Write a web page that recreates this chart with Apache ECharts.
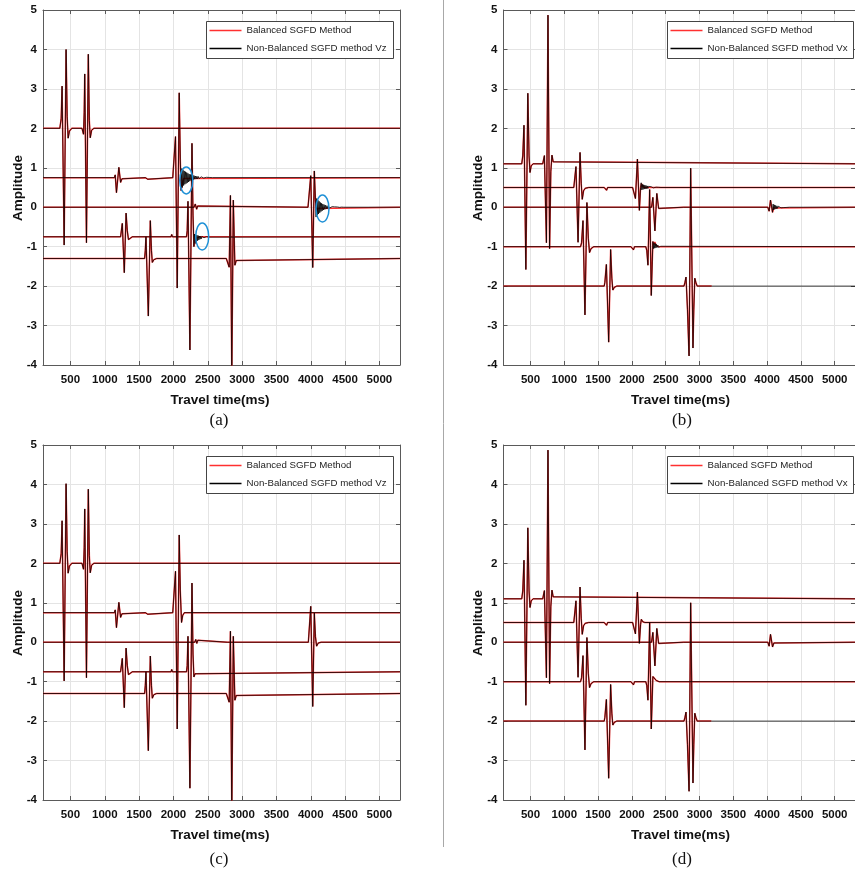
<!DOCTYPE html>
<html>
<head>
<meta charset="utf-8">
<script src="https://cdn.jsdelivr.net/npm/echarts@6/dist/echarts.min.js"></script>
<style>
  html, body { margin: 0; padding: 0; background: #fff; }
  #chart { width: 855px; height: 871px; }
</style>
</head>
<body>
<div id="chart"></div>
<script>
// ---- axis values ----
const timeTicks = [500, 1000, 1500, 2000, 2500, 3000, 3500, 4000, 4500, 5000];
const timeRange = [100, 5300];
const ampRange = [-4, 5];

const nameBalanced = 'Balanced SGFD Method';
const nameVz = 'Non-Balanced SGFD method Vz';
const nameVx = 'Non-Balanced SGFD method Vx';

// ---- panel (a): Vz traces, [time ms, amplitude] ----
const aTr1 = [[100,2],[345,2],[365,2.25],[378,3.07],[408,-0.96],[436,4.0],[452,2.3],[466,1.75],[485,1.93],[520,2],[668,2],[690,1.85],[700,2.4],[708,3.38],[733,-0.9],[760,3.88],[775,2.2],[788,1.76],[808,1.95],[840,2],[5300,2]];
const aTr2 = [[100,0.75],[1140,0.75],[1152,0.82],[1170,0.37],[1205,1.01],[1230,0.63],[1250,0.72],[1275,0.75],[1590,0.75],[1602,0.8],[1614,0.75],[1624,0.71],[1635,0.75],[1990,0.75],[2005,0.7],[2030,1.79],[2055,-2.05],[2084,2.9],[2100,1.2],[2112,0.42],[2130,0.62],[2150,0.73],[2175,0.75],[5300,0.75]];
const aTr3 = [[100,0],[2300,0],[2318,0.08],[2338,-0.05],[2352,0.03],[2365,0],[3960,0],[3978,-0.05],[4000,0.8],[4029,-1.53],[4052,0.92],[4068,0.2],[4085,-0.1],[4105,-0.03],[4130,0],[5300,0]];
const aTr4 = [[100,-0.75],[1230,-0.75],[1238,-0.7],[1255,-0.41],[1284,-1.66],[1310,-0.15],[1328,-0.6],[1345,-0.82],[1365,-0.77],[1400,-0.75],[1965,-0.75],[1975,-0.69],[1985,-0.75],[1995,-0.8],[2008,-0.75],[2190,-0.75],[2200,-0.6],[2212,0.15],[2240,-3.62],[2270,1.62],[2285,-0.2],[2298,-1.0],[2318,-0.85],[2345,-0.77],[2380,-0.75],[5300,-0.75]];
const aTr5 = [[100,-1.3],[1580,-1.3],[1590,-1.1],[1600,-0.75],[1634,-2.76],[1663,-0.34],[1680,-1.1],[1692,-1.4],[1715,-1.33],[1755,-1.3],[2770,-1.3],[2795,-1.35],[2812,-1.52],[2830,0.3],[2850,-4.3],[2872,0.18],[2895,-1.47],[2915,-1.35],[2940,-1.3],[5300,-1.3]];
// dispersion ringing of the non-balanced scheme
const aRing2 = [[2112,0.42],[2121,0.98],[2130,0.5],[2139,0.95],[2148,0.55],[2157,0.92],[2166,0.58],[2175,0.9],[2184,0.6],[2193,0.88],[2202,0.62],[2211,0.86],[2220,0.64],[2229,0.84],[2238,0.66],[2247,0.83],[2256,0.68],[2265,0.82],[2274,0.69],[2283,0.81],[2292,0.7],[2301,0.8],[2311,0.71],[2321,0.79],[2331,0.715],[2341,0.785],[2351,0.72],[2361,0.78],[2372,0.725],[2383,0.775],[2394,0.73],[2405,0.77],[2416,0.735],[2428,0.765],[2440,0.74],[2452,0.76],[2465,0.742],[2480,0.758],[2500,0.745],[2520,0.755],[2545,0.748],[2570,0.75]];
const aRing3 = [[4068,0.2],[4077,-0.25],[4086,0.22],[4095,-0.2],[4104,0.18],[4113,-0.17],[4122,0.15],[4131,-0.14],[4140,0.12],[4149,-0.11],[4158,0.1],[4167,-0.09],[4176,0.08],[4185,-0.07],[4195,0.065],[4205,-0.055],[4215,0.05],[4225,-0.045],[4236,0.04],[4247,-0.035],[4258,0.03],[4270,-0.025],[4283,0.02],[4297,-0.018],[4312,0.015],[4328,-0.012],[4345,0.01],[4365,-0.008],[4390,0.006],[4420,-0.004],[4450,0.003],[4480,0]];
const aRing4 = [[2298,-1.0],[2307,-0.68],[2316,-0.92],[2325,-0.7],[2334,-0.88],[2343,-0.71],[2352,-0.85],[2361,-0.72],[2370,-0.83],[2379,-0.73],[2388,-0.81],[2397,-0.735],[2406,-0.8],[2415,-0.74],[2425,-0.78],[2435,-0.742],[2445,-0.775],[2456,-0.745],[2467,-0.77],[2479,-0.746],[2492,-0.765],[2506,-0.748],[2524,-0.758],[2545,-0.75]];
// centres [time, amplitude] of the circled ringing zones
const aRingMarks = [[2187, 0.68], [2419, -0.74], [4171, -0.03]];

// ---- panel (b): Vx traces ----
const bTr1 = [[100,1.1],[370,1.1],[385,1.3],[403,2.08],[431,-1.58],[460,2.89],[478,1.3],[492,0.88],[510,1.05],[540,1.1],[680,1.1],[690,1.15],[705,1.31],[735,-0.9],[758,4.87],[782,-1.05],[800,0.9],[817,1.32],[835,1.15],[855,1.1],[5300,1.1]];
const bTr2 = [[100,0.5],[1140,0.5],[1150,0.55],[1172,1.03],[1203,-0.89],[1232,1.39],[1250,0.6],[1265,0.2],[1285,0.42],[1310,0.48],[1360,0.5],[1590,0.5],[1600,0.55],[1612,0.5],[1625,0.43],[1640,0.5],[2010,0.5],[2025,0.45],[2052,0.22],[2081,1.22],[2110,-0.08],[2128,0.5],[2140,0.6],[2160,0.52],[2190,0.5],[5300,0.5]];
const bTr3 = [[100,0],[2290,0],[2310,0.25],[2340,-0.6],[2368,0.35],[2395,-0.03],[2420,0],[2765,0],[2778,-0.03],[2790,0],[4010,0],[4030,-0.1],[4050,0.18],[4080,-0.13],[4100,-0.02],[4120,0],[5300,0]];
const bTr4 = [[100,-1],[1240,-1],[1255,-0.9],[1276,-0.34],[1305,-2.73],[1334,0.12],[1355,-0.8],[1373,-1.15],[1395,-1.05],[1436,-1],[1985,-1],[1995,-0.95],[2008,-1],[2023,-1.08],[2038,-1],[2205,-1],[2220,-1.1],[2237,-1.47],[2262,0.45],[2286,-2.24],[2310,-0.87],[2325,-0.95],[2340,-0.88],[2360,-0.98],[2400,-1],[5300,-1]];
const bTr5 = [[100,-2],[1590,-2],[1600,-1.9],[1622,-1.45],[1656,-3.42],[1685,-1.07],[1703,-1.8],[1717,-2.1],[1740,-2.03],[1775,-2],[2770,-2],[2785,-1.9],[2800,-1.77],[2822,-2.6],[2845,-3.77],[2869,0.99],[2903,-3.57],[2915,-2.6],[2930,-1.8],[2945,-1.9],[2965,-2],[3180,-2]];
const bRing2 = [[2128,0.5],[2137,0.62],[2146,0.44],[2155,0.58],[2164,0.45],[2173,0.57],[2182,0.46],[2191,0.56],[2200,0.47],[2209,0.55],[2218,0.47],[2227,0.54],[2236,0.475],[2245,0.53],[2254,0.48],[2264,0.525],[2274,0.483],[2284,0.52],[2295,0.486],[2306,0.515],[2317,0.49],[2330,0.51],[2343,0.492],[2357,0.508],[2372,0.494],[2388,0.505],[2406,0.497],[2430,0.5]];
const bRing3 = [[4080,-0.13],[4089,0.08],[4098,-0.07],[4107,0.06],[4116,-0.05],[4125,0.045],[4135,-0.04],[4145,0.035],[4155,-0.03],[4166,0.025],[4178,-0.02],[4191,0.018],[4205,-0.015],[4220,0.012],[4237,-0.01],[4256,0.008],[4280,-0.006],[4305,0.004],[4330,0]];
const bRing4 = [[2310,-0.87],[2319,-1.05],[2328,-0.9],[2337,-1.04],[2346,-0.92],[2355,-1.03],[2364,-0.94],[2373,-1.02],[2383,-0.96],[2393,-1.015],[2404,-0.975],[2415,-1.01],[2427,-0.99],[2440,-1]];
const bTail5 = [[3180,-2],[5300,-2]];

// ---- panel (c): Vz traces ----
const cTr1 = [[100,2],[345,2],[365,2.25],[378,3.08],[408,-0.98],[436,4.02],[452,2.3],[466,1.75],[485,1.93],[520,2],[668,2],[690,1.85],[700,2.4],[708,3.38],[733,-0.9],[760,3.88],[775,2.2],[788,1.76],[808,1.95],[840,2],[5300,2]];
const cTr2 = [[100,0.75],[1140,0.75],[1152,0.82],[1170,0.37],[1205,1.01],[1230,0.63],[1250,0.72],[1275,0.75],[1590,0.75],[1602,0.8],[1614,0.75],[1624,0.71],[1635,0.75],[1990,0.75],[2005,0.7],[2030,1.8],[2055,-2.2],[2084,2.72],[2100,1.3],[2118,0.5],[2135,0.68],[2160,0.75],[5300,0.75]];
const cTr3 = [[100,0],[2310,0],[2325,0.07],[2340,-0.03],[2355,0.05],[2370,0],[2785,0],[2795,0.02],[2805,0],[3965,0],[3980,-0.04],[4000,0.91],[4029,-1.63],[4052,0.74],[4068,0.15],[4085,-0.1],[4110,-0.02],[4150,0],[5300,0]];
const cTr4 = [[100,-0.75],[1230,-0.75],[1238,-0.7],[1255,-0.41],[1284,-1.66],[1310,-0.15],[1328,-0.6],[1345,-0.82],[1365,-0.77],[1400,-0.75],[1965,-0.75],[1975,-0.69],[1985,-0.75],[1995,-0.8],[2008,-0.75],[2190,-0.75],[2200,-0.6],[2212,0.15],[2240,-3.7],[2270,1.5],[2285,-0.3],[2298,-0.88],[2315,-0.8],[2340,-0.75],[5300,-0.75]];
const cTr5 = [[100,-1.3],[1580,-1.3],[1590,-1.1],[1600,-0.75],[1634,-2.75],[1663,-0.35],[1680,-1.1],[1692,-1.42],[1715,-1.33],[1755,-1.3],[2770,-1.3],[2795,-1.35],[2812,-1.52],[2830,0.28],[2850,-4.3],[2872,0.15],[2895,-1.47],[2915,-1.35],[2940,-1.3],[5300,-1.3]];

// ---- panel (d): Vx traces ----
const dTr1 = [[100,1.1],[370,1.1],[385,1.3],[403,2.08],[431,-1.6],[460,2.9],[478,1.3],[492,0.88],[510,1.05],[540,1.1],[680,1.1],[690,1.15],[705,1.31],[735,-0.9],[758,4.87],[782,-1.05],[800,0.9],[817,1.32],[835,1.15],[855,1.1],[5300,1.1]];
const dTr2 = [[100,0.5],[1140,0.5],[1150,0.55],[1172,1.05],[1203,-0.89],[1232,1.4],[1250,0.6],[1265,0.2],[1285,0.42],[1310,0.48],[1360,0.5],[1590,0.5],[1600,0.55],[1612,0.5],[1625,0.43],[1640,0.5],[2010,0.5],[2025,0.45],[2052,0.21],[2081,1.27],[2110,-0.03],[2128,0.45],[2139,0.58],[2160,0.52],[2190,0.5],[5300,0.5]];
const dTr3 = [[100,0],[2290,0],[2310,0.25],[2340,-0.6],[2368,0.35],[2395,-0.03],[2420,0],[2765,0],[2778,-0.03],[2790,0],[4010,0],[4030,-0.1],[4050,0.2],[4080,-0.12],[4100,-0.02],[4120,0],[5300,0]];
const dTr4 = [[100,-1],[1240,-1],[1255,-0.9],[1276,-0.34],[1305,-2.73],[1334,0.12],[1355,-0.8],[1373,-1.15],[1395,-1.05],[1436,-1],[1985,-1],[1995,-0.95],[2008,-1],[2023,-1.08],[2038,-1],[2205,-1],[2220,-1.1],[2237,-1.47],[2262,0.5],[2286,-2.2],[2310,-0.87],[2335,-0.85],[2360,-0.97],[2400,-1],[5300,-1]];
const dTr5 = [[100,-2],[1590,-2],[1600,-1.9],[1622,-1.45],[1656,-3.45],[1685,-1.07],[1703,-1.8],[1717,-2.1],[1740,-2.03],[1775,-2],[2770,-2],[2785,-1.9],[2800,-1.77],[2822,-2.6],[2845,-3.78],[2869,1.0],[2903,-3.57],[2915,-2.6],[2930,-1.8],[2945,-1.9],[2965,-2],[3175,-2]];
const dTail5 = [[3175,-2],[5300,-2]];

// ---- layout ----
const FONT = "'Liberation Sans', Arial, sans-serif";
const plotBoxes = [
  { left: 43,    top: 10,  width: 357, height: 355 },
  { left: 503.5, top: 10,  width: 357, height: 355 },
  { left: 43,    top: 445, width: 357, height: 355 },
  { left: 503.5, top: 445, width: 357, height: 355 }
];
const legendBoxes = [
  { x: 206.5, y: 21.5,  w: 187, h: 37 },
  { x: 667.5, y: 21.5,  w: 186, h: 37 },
  { x: 206.5, y: 456.5, w: 187, h: 37 },
  { x: 667.5, y: 456.5, w: 186, h: 37 }
];
const captions = [
  { text: '(a)', x: 219, y: 421 },
  { text: '(b)', x: 682, y: 421 },
  { text: '(c)', x: 219, y: 860 },
  { text: '(d)', x: 682, y: 860 }
];

const panelTraces = [
  [[aTr1, null], [aTr2, aRing2], [aTr3, aRing3], [aTr4, aRing4], [aTr5, null]],
  [[bTr1, null], [bTr2, bRing2], [bTr3, bRing3], [bTr4, bRing4], [bTr5, bTail5]],
  [[cTr1, null], [cTr2, null], [cTr3, null], [cTr4, null], [cTr5, null]],
  [[dTr1, null], [dTr2, null], [dTr3, null], [dTr4, null], [dTr5, dTail5]]
];
const panelComponent = [nameVz, nameVx, nameVz, nameVx];

// replace the balanced samples inside the span of an extra segment
function mergeSegment(base, seg) {
  if (!seg) return base;
  const t0 = seg[0][0], t1 = seg[seg.length - 1][0];
  return base.filter(p => p[0] < t0 || p[0] > t1).concat(seg).sort((p, q) => p[0] - q[0]);
}

const RED = '#ff3030';
const BLACK = '#000000';
const AXIS = '#5a5a5a';
const GRIDLINE = '#e4e4e4';

const grids = [], xAxes = [], yAxes = [], series = [], legends = [], graphics = [];

plotBoxes.forEach((b) => {
  grids.push({ left: b.left, top: b.top, width: b.width, height: b.height, containLabel: false });
});

const tickLabelStyle = { color: '#111', fontFamily: FONT, fontWeight: 'bold', fontSize: 11.5 };

// bottom / left axes carry labels, top / right axes only inward ticks (boxed frame)
plotBoxes.forEach((b, i) => {
  xAxes.push({
    type: 'value', gridIndex: i, position: 'bottom',
    min: timeRange[0], max: timeRange[1],
    axisLine: { show: true, onZero: false, lineStyle: { color: AXIS, width: 1 } },
    axisTick: { show: true, inside: true, length: 4, customValues: timeTicks, lineStyle: { color: AXIS } },
    axisLabel: Object.assign({ show: true, customValues: timeTicks, margin: 9, formatter: v => String(v) }, tickLabelStyle),
    splitLine: { show: true, lineStyle: { color: GRIDLINE, width: 1 } }
  });
});
plotBoxes.forEach((b, i) => {
  xAxes.push({
    type: 'value', gridIndex: i, position: 'top',
    min: timeRange[0], max: timeRange[1],
    axisLine: { show: true, onZero: false, lineStyle: { color: AXIS, width: 1 } },
    axisTick: { show: true, inside: true, length: 4, customValues: timeTicks, lineStyle: { color: AXIS } },
    axisLabel: { show: false },
    splitLine: { show: false }
  });
});
plotBoxes.forEach((b, i) => {
  yAxes.push({
    type: 'value', gridIndex: i, position: 'left',
    min: ampRange[0], max: ampRange[1], interval: 1,
    axisLine: { show: true, onZero: false, lineStyle: { color: AXIS, width: 1 } },
    axisTick: { show: true, inside: true, length: 4, lineStyle: { color: AXIS } },
    axisLabel: Object.assign({ show: true, margin: 6 }, tickLabelStyle),
    splitLine: { show: true, lineStyle: { color: GRIDLINE, width: 1 } }
  });
});
plotBoxes.forEach((b, i) => {
  yAxes.push({
    type: 'value', gridIndex: i, position: 'right',
    min: ampRange[0], max: ampRange[1], interval: 1,
    axisLine: { show: true, onZero: false, lineStyle: { color: AXIS, width: 1 } },
    axisTick: { show: true, inside: true, length: 4, lineStyle: { color: AXIS } },
    axisLabel: { show: false },
    splitLine: { show: false }
  });
});

panelTraces.forEach((traces, i) => {
  // balanced traces first (underneath)
  traces.forEach(([bal]) => {
    series.push({
      type: 'line', name: nameBalanced, xAxisIndex: i, yAxisIndex: i,
      data: bal, smooth: false, showSymbol: false, symbol: 'none', silent: true, animation: false,
      color: RED, lineStyle: { color: RED, width: 1.5 }, z: 2
    });
  });
  traces.forEach(([bal, extra]) => {
    series.push({
      type: 'line', name: panelComponent[i], xAxisIndex: i, yAxisIndex: i,
      data: mergeSegment(bal, extra), smooth: false, showSymbol: false, symbol: 'none', silent: true, animation: false,
      color: BLACK, lineStyle: { color: BLACK, width: 1.0, opacity: 0.78 }, z: 3
    });
  });

  const lb = legendBoxes[i];
  legends.push({
    data: [nameBalanced, panelComponent[i]],
    orient: 'vertical', left: lb.x + 3, top: lb.y + 2,
    padding: 0, itemGap: 4, itemWidth: 32, itemHeight: 1.6, icon: 'rect',
    selectedMode: false, z: 80,
    textStyle: { fontFamily: FONT, fontSize: 9.7, color: '#222', lineHeight: 14 }
  });
  graphics.push({
    type: 'rect', shape: { x: lb.x, y: lb.y, width: lb.w, height: lb.h },
    style: { fill: '#fff', stroke: '#444', lineWidth: 1 }, z: 50, silent: true
  });

  const b = plotBoxes[i];
  graphics.push({
    type: 'text', x: b.left - 25, y: b.top + 178, rotation: Math.PI / 2,
    style: { text: 'Amplitude', fontFamily: FONT, fontWeight: 'bold', fontSize: 13.5, fill: '#111', align: 'center', verticalAlign: 'middle' },
    z: 60
  });
  graphics.push({
    type: 'text', x: b.left + 177, y: b.top + 390,
    style: { text: 'Travel time(ms)', fontFamily: FONT, fontWeight: 'bold', fontSize: 13.5, fill: '#111', align: 'center', verticalAlign: 'middle' },
    z: 60
  });
  const c = captions[i];
  graphics.push({
    type: 'text', x: c.x, y: c.y,
    style: { text: c.text, fontFamily: "'Liberation Serif', 'Times New Roman', serif", fontSize: 17, fill: '#111', align: 'center', verticalAlign: 'middle' },
    z: 60
  });
});

// separator between the left and right columns
graphics.push({
  type: 'line', shape: { x1: 443.5, y1: 0, x2: 443.5, y2: 847 },
  style: { stroke: '#a8a8a8', lineWidth: 1 }, z: 1, silent: true
});

const chart = echarts.init(document.getElementById('chart'), null, { renderer: 'canvas' });
chart.setOption({
  backgroundColor: '#ffffff',
  animation: false,
  grid: grids,
  xAxis: xAxes,
  yAxis: yAxes,
  legend: legends,
  series: series,
  graphic: graphics
});

// blue ellipses around the ringing zones of panel (a), placed through the panel's axes
const ringEllipses = aRingMarks.map(([t, amp]) => {
  const [px, py] = chart.convertToPixel({ xAxisIndex: 0, yAxisIndex: 0 }, [t, amp]);
  return {
    type: 'ellipse', shape: { cx: px, cy: py, rx: 6.5, ry: 13.5 },
    style: { fill: 'none', stroke: '#1e90d6', lineWidth: 1.5 }, z: 40, silent: true
  };
});
chart.setOption({ graphic: graphics.concat(ringEllipses) });
</script>
</body>
</html>
